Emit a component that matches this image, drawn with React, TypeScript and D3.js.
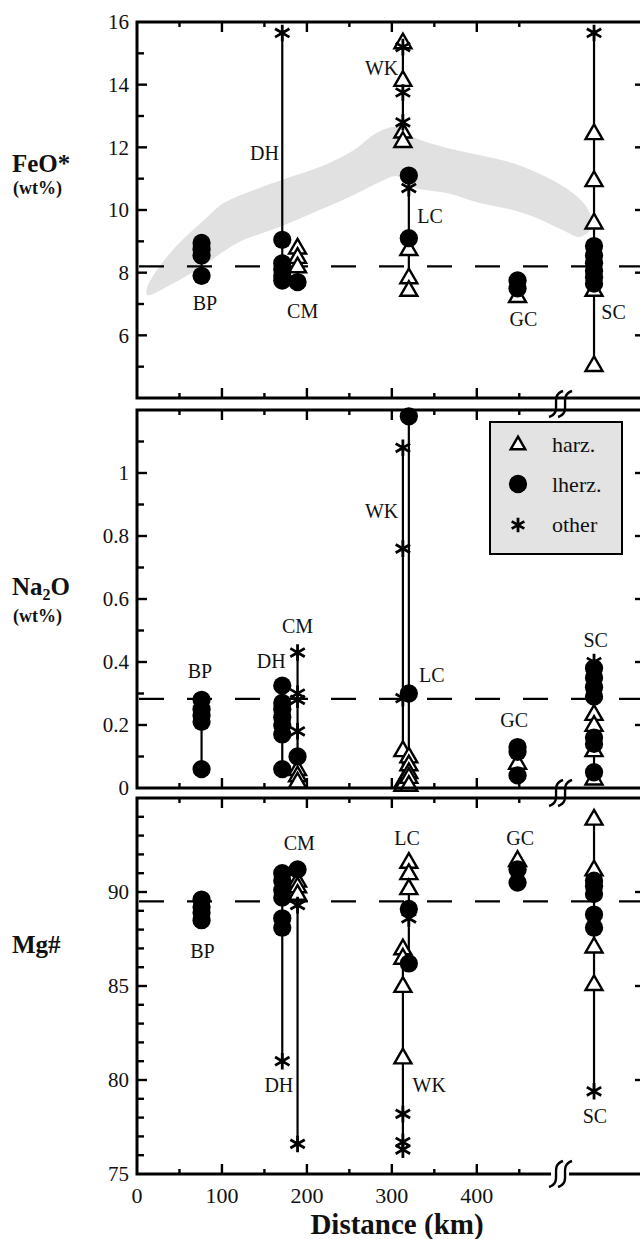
import React from 'react';
import * as d3 from 'd3';

type Pt = [string, number];

// Localities and along-arc distance (km)
const localityNames = ['BP', 'DH', 'CM', 'WK', 'LC', 'GC', 'SC'];
const localityKm = [76, 171, 189, 313, 320, 448, 538];

// FeO* (wt%)
const feoHarz: Pt[] = [
  ['CM', 8.8], ['CM', 8.5], ['CM', 8.2],
  ['WK', 15.35], ['WK', 14.15], ['WK', 12.5], ['WK', 12.2],
  ['LC', 8.75], ['LC', 7.85], ['LC', 7.45],
  ['GC', 7.25],
  ['SC', 12.45], ['SC', 10.95], ['SC', 9.6], ['SC', 7.45], ['SC', 5.05],
];
const feoLherz: Pt[] = [
  ['BP', 8.95], ['BP', 8.75], ['BP', 8.55], ['BP', 7.9],
  ['DH', 9.05], ['DH', 8.3], ['DH', 8.1], ['DH', 7.9], ['DH', 7.75],
  ['CM', 7.7],
  ['LC', 11.1], ['LC', 9.1],
  ['GC', 7.75], ['GC', 7.5],
  ['SC', 8.85], ['SC', 8.55], ['SC', 8.3], ['SC', 8.05], ['SC', 7.85], ['SC', 7.65],
];
const feoOther: Pt[] = [
  ['DH', 15.65], ['WK', 15.2], ['WK', 13.75], ['WK', 12.8], ['LC', 10.7], ['SC', 15.65],
];
const feoRef = 8.2;
const feoField: [number, number][] = [
  [12, 7.54], [39, 8.63], [79, 9.68], [102, 10.22], [138, 10.64], [177, 11.02],
  [215, 11.37], [255, 11.91], [282, 12.46], [306, 12.65], [325, 12.33], [365, 11.98],
  [404, 11.75], [442, 11.5], [482, 11.05], [513, 10.54], [529, 10.1], [535, 9.68],
  [533, 9.36], [521, 9.14], [501, 9.36], [471, 9.74], [442, 10.0], [404, 10.22],
  [365, 10.54], [325, 10.73], [306, 11.08], [286, 10.89], [255, 10.48], [215, 10.0],
  [168, 9.46], [118, 8.95], [79, 8.24], [39, 7.61], [12, 7.29],
];
const feoLabels: [string, number, number][] = [
  ['BP', 80, 6.81], ['DH', 150, 11.6], ['CM', 195, 6.55], ['WK', 288, 14.31],
  ['LC', 345, 9.58], ['GC', 455, 6.3], ['SC', 561, 6.52],
];

// Na2O (wt%)
const naHarz: Pt[] = [
  ['CM', 0.06], ['CM', 0.04], ['CM', 0.02],
  ['WK', 0.12], ['WK', 0.02], ['WK', 0.01],
  ['LC', 0.1], ['LC', 0.075], ['LC', 0.05], ['LC', 0.035], ['LC', 0.01],
  ['GC', 0.08],
  ['SC', 0.235], ['SC', 0.2], ['SC', 0.12], ['SC', 0.03],
];
const naLherz: Pt[] = [
  ['BP', 0.28], ['BP', 0.25], ['BP', 0.23], ['BP', 0.21], ['BP', 0.06],
  ['DH', 0.325], ['DH', 0.27], ['DH', 0.25], ['DH', 0.225], ['DH', 0.2], ['DH', 0.17], ['DH', 0.06],
  ['CM', 0.1],
  ['LC', 1.18], ['LC', 0.3],
  ['GC', 0.13], ['GC', 0.115], ['GC', 0.04],
  ['SC', 0.38], ['SC', 0.35], ['SC', 0.32], ['SC', 0.29], ['SC', 0.16], ['SC', 0.14], ['SC', 0.05],
];
const naOther: Pt[] = [
  ['CM', 0.43], ['CM', 0.3], ['CM', 0.28], ['CM', 0.18],
  ['WK', 1.08], ['WK', 0.76], ['WK', 0.285],
  ['SC', 0.4],
];
const naRef = 0.283;
const naLabels: [string, number, number][] = [
  ['BP', 74, 0.349], ['DH', 158, 0.381], ['CM', 189, 0.492], ['WK', 288, 0.857],
  ['LC', 347, 0.337], ['GC', 444, 0.194], ['SC', 540, 0.448],
];

// Mg#
const mgHarz: Pt[] = [
  ['CM', 90.6], ['CM', 90.3], ['CM', 89.9],
  ['LC', 91.6], ['LC', 91.0], ['LC', 90.2],
  ['WK', 87.0], ['WK', 86.5], ['WK', 85.0], ['WK', 81.2],
  ['GC', 91.7],
  ['SC', 93.9], ['SC', 91.2], ['SC', 87.1], ['SC', 85.1],
];
const mgLherz: Pt[] = [
  ['BP', 89.6], ['BP', 89.2], ['BP', 88.9], ['BP', 88.5],
  ['DH', 91.0], ['DH', 90.6], ['DH', 90.1], ['DH', 89.7], ['DH', 88.6], ['DH', 88.1],
  ['CM', 91.2],
  ['LC', 89.1], ['LC', 86.2],
  ['GC', 91.2], ['GC', 90.5],
  ['SC', 90.6], ['SC', 90.3], ['SC', 89.9], ['SC', 88.8], ['SC', 88.1],
];
const mgOther: Pt[] = [
  ['DH', 81.0], ['CM', 89.3], ['CM', 76.6], ['LC', 88.6],
  ['WK', 78.2], ['WK', 76.7], ['WK', 76.3], ['SC', 79.4],
];
const mgRef = 89.5;
const mgLabels: [string, number, number][] = [
  ['BP', 77, 86.49], ['CM', 191, 92.23], ['LC', 318, 92.5], ['GC', 451, 92.5],
  ['DH', 167, 79.36], ['WK', 344, 79.36], ['SC', 539, 77.7],
];

// Axis ticks
const xMajorTicks = [100, 200, 300, 400];
const xMinorTicks = [50, 150, 250, 350, 450];
const xTickLabels = [0, 100, 200, 300, 400];
const xBreakKm = 498;

const SERIF = '"Liberation Serif", "Times New Roman", Times, serif';
const X0 = 137;
const X1 = 645;

const panels = [
  {
    key: 'feo', top: 22, bottom: 398, domain: [4, 16],
    major: [6, 8, 10, 12, 14], minor: [5, 7, 9, 11, 13, 15],
    labels: [6, 8, 10, 12, 14, 16], fmt: (d: number) => String(d),
    harz: feoHarz, lherz: feoLherz, other: feoOther, ref: feoRef, names: feoLabels,
  },
  {
    key: 'na', top: 410, bottom: 788, domain: [0, 1.2],
    major: [0.2, 0.4, 0.6, 0.8, 1.0], minor: [0.1, 0.3, 0.5, 0.7, 0.9, 1.1],
    labels: [0, 0.2, 0.4, 0.6, 0.8, 1], fmt: (d: number) => (d === 0 ? '0' : d === 1 ? '1' : d.toFixed(1)),
    harz: naHarz, lherz: naLherz, other: naOther, ref: naRef, names: naLabels,
  },
  {
    key: 'mg', top: 798, bottom: 1174, domain: [75, 95],
    major: [80, 85, 90], minor: d3.range(76, 95).filter((d) => d % 5 !== 0),
    labels: [75, 80, 85, 90], fmt: (d: number) => String(d),
    harz: mgHarz, lherz: mgLherz, other: mgOther, ref: mgRef, names: mgLabels,
  },
];

const x = d3.scaleLinear().domain([0, 598]).range([X0, X1]);
const kmOf = (n: string) => localityKm[localityNames.indexOf(n)];

const triPath = d3.symbol(d3.symbolTriangle, 125)()!;
const circPath = d3.symbol(d3.symbolCircle, 262)()!;
const astPath = d3.symbol(d3.symbolAsterisk, 195)()!;

function BreakMark({ cx, cy }: { cx: number; cy: number }) {
  const s = (ox: number) =>
    `M${cx + ox + 7},${cy - 13} C${cx + ox - 8},${cy - 8} ${cx + ox + 8},${cy + 8} ${cx + ox - 7},${cy + 13}`;
  return (
    <g>
      <rect x={cx - 9} y={cy - 3} width={18} height={6} fill="white" />
      <path d={s(-4)} fill="none" stroke="black" strokeWidth={2.4} />
      <path d={s(5)} fill="none" stroke="black" strokeWidth={2.4} />
    </g>
  );
}

function Panel({ p }: { p: (typeof panels)[number] }) {
  const y = d3.scaleLinear().domain(p.domain).range([p.bottom, p.top]);
  const all = [...p.harz, ...p.lherz, ...p.other];
  const groups = d3.groups(all, (d) => d[0]);
  const field =
    p.key === 'feo'
      ? d3
          .line<[number, number]>()
          .x((d) => x(d[0]))
          .y((d) => y(d[1]))
          .curve(d3.curveCatmullRomClosed.alpha(0.5))(feoField)
      : null;
  return (
    <g>
      {field && <path d={field} fill="#e1e1e1" stroke="none" />}
      <line x1={X0} x2={X1} y1={y(p.ref)} y2={y(p.ref)} stroke="black" strokeWidth={2.4} strokeDasharray="25,23" strokeDashoffset={-2} />
      {groups.map(([name, vals]) => {
        const ext = d3.extent(vals, (d) => d[1]) as [number, number];
        return (
          <line key={name} x1={x(kmOf(name))} x2={x(kmOf(name))} y1={y(ext[0])} y2={y(ext[1])} stroke="black" strokeWidth={2.2} />
        );
      })}
      {p.harz.map((d, i) => (
        <path key={'h' + i} d={triPath} transform={`translate(${x(kmOf(d[0]))},${y(d[1]) + 1})`} fill="white" stroke="black" strokeWidth={2.4} />
      ))}
      {p.lherz.map((d, i) => (
        <path key={'l' + i} d={circPath} transform={`translate(${x(kmOf(d[0]))},${y(d[1])})`} fill="black" />
      ))}
      {p.other.map((d, i) => (
        <path key={'o' + i} d={astPath} transform={`translate(${x(kmOf(d[0]))},${y(d[1])})`} fill="none" stroke="black" strokeWidth={2.8} />
      ))}
      {p.names.map(([t, km, v]) => (
        <text key={t} x={x(km)} y={y(v)} textAnchor="middle" fontFamily={SERIF} fontSize={20} fill="#111">
          {t}
        </text>
      ))}
      {/* frame */}
      <rect x={X0} y={p.top} width={X1 - X0} height={p.bottom - p.top} fill="none" stroke="black" strokeWidth={3} />
      {/* y ticks */}
      {p.major.map((v) => (
        <g key={'M' + v}>
          <line x1={X0} x2={X0 + 10} y1={y(v)} y2={y(v)} stroke="black" strokeWidth={2.4} />
          <line x1={X1 - 10} x2={X1} y1={y(v)} y2={y(v)} stroke="black" strokeWidth={2.4} />
        </g>
      ))}
      {p.minor.map((v) => (
        <line key={'m' + v} x1={X0} x2={X0 + 7} y1={y(v)} y2={y(v)} stroke="black" strokeWidth={2.4} />
      ))}
      {/* x ticks top & bottom */}
      {xMajorTicks.map((k) => (
        <g key={'xM' + k}>
          <line x1={x(k)} x2={x(k)} y1={p.top} y2={p.top + 10} stroke="black" strokeWidth={2.4} />
          <line x1={x(k)} x2={x(k)} y1={p.bottom} y2={p.bottom - 10} stroke="black" strokeWidth={2.4} />
        </g>
      ))}
      {xMinorTicks.map((k) => (
        <g key={'xm' + k}>
          <line x1={x(k)} x2={x(k)} y1={p.top} y2={p.top + 5} stroke="black" strokeWidth={2.4} />
          <line x1={x(k)} x2={x(k)} y1={p.bottom} y2={p.bottom - 5} stroke="black" strokeWidth={2.4} />
        </g>
      ))}
      {p.labels.map((v) => (
        <text key={'t' + v} x={129} y={y(v)} dy="0.35em" textAnchor="end" fontFamily={SERIF} fontSize={21} fill="#111">
          {p.fmt(v)}
        </text>
      ))}
    </g>
  );
}

export default function App() {
  const pBottom = panels[2].bottom;
  const bx = x(xBreakKm);
  return (
    <svg width={640} height={1239} viewBox="0 0 640 1239" style={{ position: 'absolute', left: 0, top: 0, background: 'white' }}>
      <rect x={0} y={0} width={640} height={1239} fill="white" />
      {panels.map((p) => (
        <Panel key={p.key} p={p} />
      ))}
      {/* axis breaks */}
      <BreakMark cx={bx} cy={(panels[0].bottom + panels[1].top) / 2} />
      <BreakMark cx={bx} cy={(panels[1].bottom + panels[2].top) / 2} />
      <BreakMark cx={bx} cy={pBottom} />
      {/* x tick labels */}
      {xTickLabels.map((k) => (
        <text key={'xl' + k} x={x(k)} y={1203} textAnchor="middle" fontFamily={SERIF} fontSize={22} fill="#111">
          {k}
        </text>
      ))}
      <text x={397} y={1234} textAnchor="middle" fontFamily={SERIF} fontWeight="bold" fontSize={29} fill="#111">
        Distance (km)
      </text>
      {/* y titles */}
      <text x={12} y={172} fontFamily={SERIF} fontWeight="bold" fontSize={25} fill="#111">FeO*</text>
      <text x={13} y={194} fontFamily={SERIF} fontWeight="bold" fontSize={18} fill="#111">(wt%)</text>
      <text x={12} y={595} fontFamily={SERIF} fontWeight="bold" fontSize={25} fill="#111">
        Na<tspan fontSize={16} dy={5}>2</tspan>
        <tspan dy={-5}>O</tspan>
      </text>
      <text x={13} y={622} fontFamily={SERIF} fontWeight="bold" fontSize={18} fill="#111">(wt%)</text>
      <text x={12} y={953} fontFamily={SERIF} fontWeight="bold" fontSize={25} fill="#111">Mg#</text>
      {/* legend */}
      <g>
        <rect x={490} y={422} width={132} height={132} fill="#e3e3e3" stroke="black" strokeWidth={2} />
        <path d={d3.symbol(d3.symbolTriangle, 90)()!} transform="translate(518,445)" fill="white" stroke="black" strokeWidth={2.5} />
        <path d={circPath} transform="translate(518,484)" fill="black" />
        <path d={d3.symbol(d3.symbolAsterisk, 150)()!} transform="translate(518,525)" fill="none" stroke="black" strokeWidth={2.8} />
        <text x={552} y={452} fontFamily={SERIF} fontSize={22} fill="#111">harz.</text>
        <text x={552} y={492} fontFamily={SERIF} fontSize={22} fill="#111">lherz.</text>
        <text x={552} y={532} fontFamily={SERIF} fontSize={22} fill="#111">other</text>
      </g>
    </svg>
  );
}
